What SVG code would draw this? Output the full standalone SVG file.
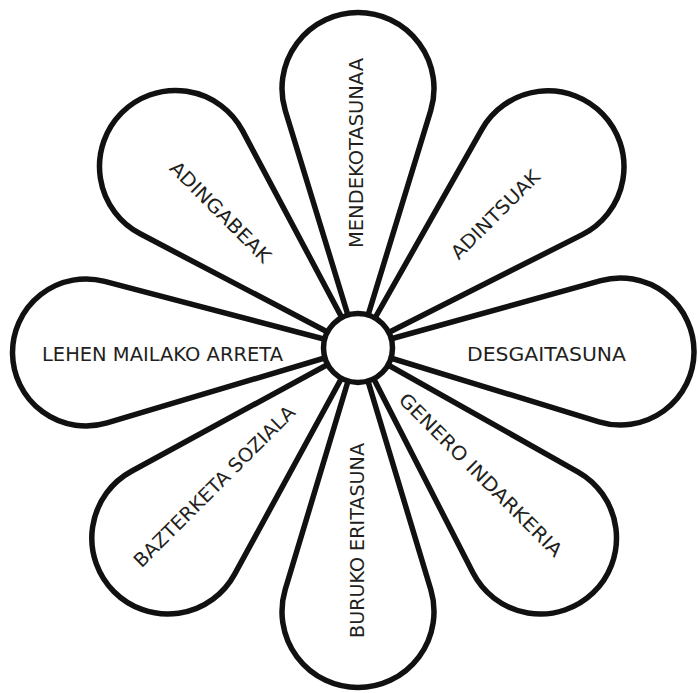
<svg xmlns="http://www.w3.org/2000/svg" width="698" height="693" viewBox="0 0 698 693">
<style>
.petal{fill:#fff;stroke:#111;stroke-width:5.5;stroke-linejoin:round}
.hub{fill:#fff;stroke:#111;stroke-width:5.5}
.lbl{font-family:"DejaVu Sans",Lato,sans-serif;font-size:19px;fill:#231f20;text-anchor:middle}
</style>
<rect width="698" height="693" fill="#fff"/>
<g id="petals">
<g id="p-mendekotasunaa"><path class="petal" d="M358,348 L285.33,110.76 A76,76 0 1,1 430.67,110.76 Z"/></g>
<g id="p-adintsuak"><path class="petal" d="M358,348 L481.87,129.33 A76,76 0 1,1 582.29,234.63 Z"/></g>
<g id="p-desgaitasuna"><path class="petal" d="M358,348 L600.86,280.68 A73.5,73.5 0 1,1 598.98,421.78 Z"/></g>
<g id="p-genero"><path class="petal" d="M358,348 L577.79,471.78 A76,76 0 1,1 472.83,572.60 Z"/></g>
<g id="p-buruko"><path class="petal" d="M358,348 L430.77,589.58 A76,76 0 1,1 285.23,589.58 Z"/></g>
<g id="p-bazterketa"><path class="petal" d="M358,348 L234.52,574.40 A76,76 0 1,1 131.48,471.24 Z"/></g>
<g id="p-lehen"><path class="petal" d="M358,348 L107.03,422.93 A73.5,73.5 0 1,1 104.69,281.41 Z"/></g>
<g id="p-adingabeak"><path class="petal" d="M358,348 L140.22,233.81 A76,76 0 1,1 242.62,130.85 Z"/></g>
</g>
<g id="hub"><circle class="hub" cx="358" cy="348" r="34.5"/></g>
<g id="labels">
<text class="lbl" transform="translate(362.5,153) rotate(-90)" textLength="190" lengthAdjust="spacingAndGlyphs">MENDEKOTASUNAA</text>
<text class="lbl" transform="translate(500,219.2) rotate(-45)" textLength="117" lengthAdjust="spacingAndGlyphs">ADINTSUAK</text>
<text class="lbl" x="546.5" y="361" textLength="159" lengthAdjust="spacingAndGlyphs">DESGAITASUNA</text>
<text class="lbl" transform="translate(476,479.5) rotate(45)" textLength="222" lengthAdjust="spacingAndGlyphs">GENERO INDARKERIA</text>
<text class="lbl" transform="translate(363.5,540.5) rotate(-90)" textLength="195" lengthAdjust="spacingAndGlyphs">BURUKO ERITASUNA</text>
<text class="lbl" transform="translate(219,491) rotate(-45)" textLength="219" lengthAdjust="spacingAndGlyphs">BAZTERKETA SOZIALA</text>
<text class="lbl" x="162.5" y="361" textLength="241" lengthAdjust="spacingAndGlyphs">LEHEN MAILAKO ARRETA</text>
<text class="lbl" transform="translate(215.9,216.7) rotate(45)" textLength="134" lengthAdjust="spacingAndGlyphs">ADINGABEAK</text>
</g>
</svg>
